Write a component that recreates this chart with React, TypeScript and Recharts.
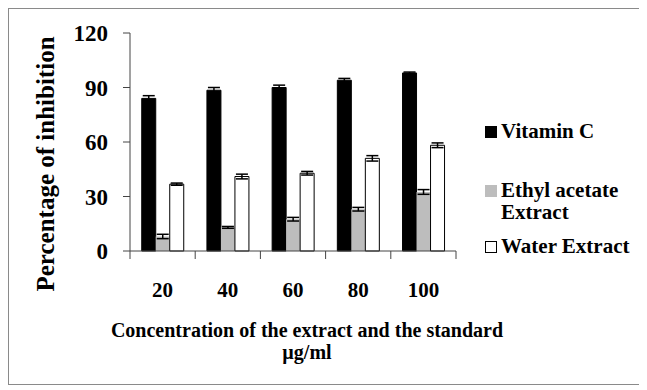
import React from 'react';
import { BarChart, Bar, XAxis, YAxis, ErrorBar } from 'recharts';

const concentrations = ['20', '40', '60', '80', '100'];
const vitaminC = [84, 88.5, 90, 94, 98];
const vitaminCErr = [1.5, 1.5, 1.3, 1, 0.5];
const ethylAcetate = [8, 13, 17.5, 23, 32.5];
const ethylAcetateErr = [1.2, 0.5, 1, 1, 1.3];
const water = [36.8, 41, 42.8, 51, 58.2];
const waterErr = [0.6, 1.3, 1, 1.5, 1.3];
const yTicks = [0, 30, 60, 90, 120];

const seriesNames = ['Vitamin C', 'Ethyl acetate Extract', 'Water Extract'];

const data = concentrations.map((c, i) => ({
  conc: c,
  vitc: vitaminC[i],
  vitcErr: vitaminCErr[i],
  ethyl: ethylAcetate[i],
  ethylErr: ethylAcetateErr[i],
  water: water[i],
  waterErr: waterErr[i],
}));

const FONT = '"Liberation Serif", "Times New Roman", serif';
const AXIS = '#444';

const XTick = (props: any) => {
  const { x, y, payload, index } = props;
  const half = payload.offset > 0 ? payload.offset : 32.6;
  const top = y - 8;
  return (
    <g>
      <line x1={x - half} x2={x - half} y1={top} y2={top + 8} stroke={AXIS} />
      {index === concentrations.length - 1 && (
        <line x1={x + half} x2={x + half} y1={top} y2={top + 8} stroke={AXIS} />
      )}
      <text x={x} y={y + 38} textAnchor="middle" fontFamily={FONT} fontWeight="bold" fontSize={21} fill="#000">
        {payload.value}
      </text>
    </g>
  );
};

const XTitle = (props: any) => {
  const vb = props.viewBox;
  const cx = vb.x + vb.width / 2 + 14;
  return (
    <text textAnchor="middle" fontFamily={FONT} fontWeight="bold" fontSize={20} fill="#000">
      <tspan x={cx} y={vb.y + 86}>Concentration of the extract and the standard</tspan>
      <tspan x={cx} y={vb.y + 108}>µg/ml</tspan>
    </text>
  );
};

const YTitle = (props: any) => {
  const vb = props.viewBox;
  const cy = vb.y + vb.height / 2 + 22;
  return (
    <text
      x={36}
      y={cy}
      transform={`rotate(-90, 36, ${cy})`}
      textAnchor="middle"
      dominantBaseline="central"
      fontFamily={FONT}
      fontWeight="bold"
      fontSize={25}
      fill="#000"
    >
      Percentage of inhibition
    </text>
  );
};

const swatches = [
  { fill: '#000', stroke: '#000' },
  { fill: '#bdbdbd', stroke: '#bdbdbd' },
  { fill: '#fff', stroke: '#000' },
];

const LegendBox = () => (
  <div
    style={{
      position: 'absolute',
      left: 476,
      top: 111,
      width: 160,
      fontFamily: FONT,
      fontWeight: 'bold',
      fontSize: 21,
      lineHeight: '22px',
      color: '#000',
    }}
  >
    {seriesNames.map((name, i) => (
      <div key={name} style={{ display: 'flex', alignItems: 'flex-start', marginTop: i === 1 ? 37 : i === 2 ? 12 : 0 }}>
        <span
          style={{
            display: 'inline-block',
            width: 10,
            height: 10,
            marginTop: 6,
            marginRight: 4,
            background: swatches[i].fill,
            border: `1px solid ${swatches[i].stroke}`,
            flexShrink: 0,
          }}
        />
        <span style={{ width: i === 1 ? 135 : 150 }}>{name}</span>
      </div>
    ))}
  </div>
);

export default function App() {
  return (
    <div style={{ position: 'relative', width: 630, height: 375, border: '1px solid #8a8a8a', background: '#fff' }}>
      <BarChart
        width={630}
        height={375}
        data={data}
        margin={{ top: 24, right: 183, left: 0, bottom: 0 }}
        barCategoryGap="18%"
        barGap={0}
      >
        <XAxis
          dataKey="conc"
          height={133}
          stroke={AXIS}
          tickLine={false}
          tickSize={8}
          tickMargin={0}
          tick={<XTick />}
          interval={0}
          label={{ content: <XTitle /> }}
        />
        <YAxis
          width={121}
          domain={[0, 120]}
          ticks={yTicks}
          stroke={AXIS}
          tickSize={7}
          tickMargin={15}
          tick={{ fontFamily: FONT, fontWeight: 'bold', fontSize: 23, fill: '#000' }}
          label={{ content: <YTitle /> }}
        />
        <Bar dataKey="vitc" name={seriesNames[0]} fill="#000" stroke="#000" isAnimationActive={false}>
          <ErrorBar dataKey="vitcErr" width={6} stroke="#000" strokeWidth={1.5} />
        </Bar>
        <Bar dataKey="ethyl" name={seriesNames[1]} fill="#bdbdbd" isAnimationActive={false}>
          <ErrorBar dataKey="ethylErr" width={6} stroke="#000" strokeWidth={1.5} />
        </Bar>
        <Bar dataKey="water" name={seriesNames[2]} fill="#fff" stroke="#000" isAnimationActive={false}>
          <ErrorBar dataKey="waterErr" width={6} stroke="#000" strokeWidth={1.5} />
        </Bar>
      </BarChart>
      <LegendBox />
    </div>
  );
}
